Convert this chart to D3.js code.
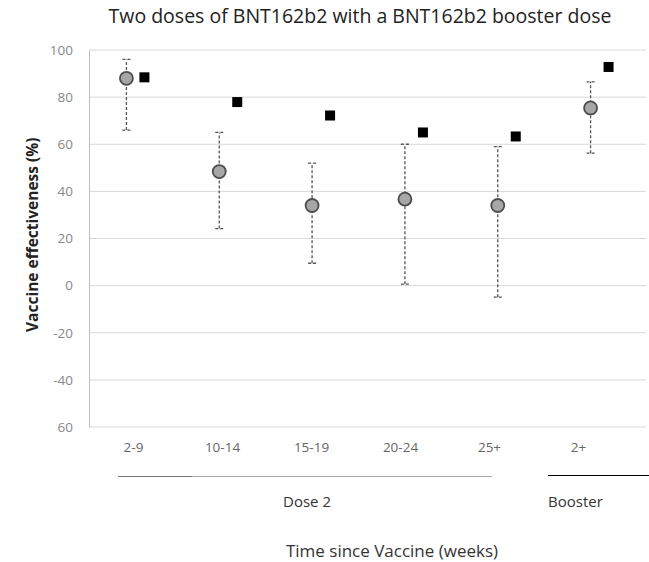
<!DOCTYPE html>
<html>
<head>
<meta charset="utf-8">
<script src="https://cdn.jsdelivr.net/npm/d3@7"></script>
<style>
  body { margin: 0; background: #fff; }
  text { font-family: "Open Sans", "Liberation Sans", sans-serif; }
</style>
</head>
<body>
<div id="chart"></div>
<script>
// data
var categories = ["2-9", "10-14", "15-19", "20-24", "25+", "2+"];
var groups = ["Dose 2", "Dose 2", "Dose 2", "Dose 2", "Dose 2", "Booster"];
var veEstimate = [88, 48.4, 34, 36.7, 34, 75.4];
var veLower = [66, 24.2, 9.5, 0.6, -4.9, 56.2];
var veUpper = [96, 65, 52, 60, 59, 86.5];
var veSquare = [88.4, 77.9, 72.2, 65, 63.3, 92.8];
var yTicks = [100, 80, 60, 40, 20, 0, -20, -40, -60];
var yTickLabels = ["100", "80", "60", "40", "20", "0", "-20", "-40", "60"];

var width = 649, height = 562;
var margin = {top: 50, right: 3, bottom: 135, left: 89};
var plotW = width - margin.left - margin.right,
    plotH = height - margin.top - margin.bottom;

var svg = d3.select("#chart")
  .append("svg")
  .attr("width", width)
  .attr("height", height);

var g = svg.append("g")
  .attr("transform", "translate(" + margin.left + "," + margin.top + ")");

var x = d3.scaleBand()
  .domain(categories)
  .range([0, plotW]);

var xLabel = d3.scalePoint()
  .domain(categories)
  .range([44, 489]);

var y = d3.scaleLinear()
  .domain([-60, 100])
  .range([plotH, 0]);

// gridlines
g.selectAll(".grid")
  .data(yTicks)
  .enter()
  .append("line")
  .attr("x1", 0)
  .attr("x2", plotW)
  .attr("y1", function(d) { return y(d); })
  .attr("y2", function(d) { return y(d); })
  .attr("stroke", "#d9d9d9")
  .attr("stroke-width", 1);

// y axis
var yAxis = g.append("g")
  .call(d3.axisLeft(y).tickValues(yTicks).tickSize(0).tickPadding(16)
    .tickFormat(function(d, i) { return yTickLabels[i]; }));
yAxis.select(".domain").attr("stroke", "#bfbfbf");
yAxis.selectAll("text")
  .attr("fill", "#888")
  .style("font-size", "13.5px");

// x tick labels
g.append("g")
  .attr("transform", "translate(0," + plotH + ")")
  .call(d3.axisBottom(xLabel).tickSize(0).tickPadding(15))
  .call(function(a) { a.select(".domain").remove(); })
  .selectAll("text")
  .attr("fill", "#666")
  .style("font-size", "13.5px");

var off = 9;

// error bars
var eb = g.selectAll(".eb")
  .data(categories)
  .enter()
  .append("g")
  .attr("transform", function(d) { return "translate(" + (x(d) + x.bandwidth() / 2 - off) + ",0)"; });

eb.append("line")
  .attr("y1", function(d, i) { return y(veLower[i]); })
  .attr("y2", function(d, i) { return y(veUpper[i]); })
  .attr("stroke", "#555")
  .attr("stroke-width", 1.3)
  .attr("stroke-dasharray", "3,2");

eb.append("line")
  .attr("x1", -4).attr("x2", 4)
  .attr("y1", function(d, i) { return y(veLower[i]); })
  .attr("y2", function(d, i) { return y(veLower[i]); })
  .attr("stroke", "#555")
  .attr("stroke-width", 1.3)
  .attr("stroke-dasharray", "3,2");

eb.append("line")
  .attr("x1", -4).attr("x2", 4)
  .attr("y1", function(d, i) { return y(veUpper[i]); })
  .attr("y2", function(d, i) { return y(veUpper[i]); })
  .attr("stroke", "#555")
  .attr("stroke-width", 1.3)
  .attr("stroke-dasharray", "3,2");

// circles
g.selectAll(".pt")
  .data(categories)
  .enter()
  .append("circle")
  .attr("cx", function(d) { return x(d) + x.bandwidth() / 2 - off; })
  .attr("cy", function(d, i) { return y(veEstimate[i]); })
  .attr("r", 6.5)
  .attr("fill", "#a6a6a6")
  .attr("stroke", "#4d4d4d")
  .attr("stroke-width", 1.8);

// squares
var sq = 10;
g.selectAll(".sq")
  .data(categories)
  .enter()
  .append("rect")
  .attr("x", function(d) { return x(d) + x.bandwidth() / 2 + off - sq / 2; })
  .attr("y", function(d, i) { return y(veSquare[i]) - sq / 2; })
  .attr("width", sq)
  .attr("height", sq)
  .attr("fill", "#000");

// group brackets
svg.append("line")
  .attr("x1", 118).attr("x2", 492)
  .attr("y1", 476.5).attr("y2", 476.5)
  .attr("stroke", "#aaa");
svg.append("line")
  .attr("x1", 118).attr("x2", 192)
  .attr("y1", 476.5).attr("y2", 476.5)
  .attr("stroke", "#777");
svg.append("text")
  .attr("x", 307).attr("y", 507)
  .attr("text-anchor", "middle")
  .attr("fill", "#333")
  .style("font-size", "15px")
  .text(groups[0]);

svg.append("line")
  .attr("x1", 548).attr("x2", 649)
  .attr("y1", 475.5).attr("y2", 475.5)
  .attr("stroke", "#000")
  .attr("stroke-width", 1.2);
svg.append("text")
  .attr("x", 548).attr("y", 507)
  .attr("fill", "#333")
  .style("font-size", "15px")
  .text(groups[5]);

// title
svg.append("text")
  .attr("x", 360).attr("y", 23)
  .attr("text-anchor", "middle")
  .attr("fill", "#222")
  .style("font-size", "19.5px")
  .text("Two doses of BNT162b2 with a BNT162b2 booster dose");

// x axis label
svg.append("text")
  .attr("x", 392).attr("y", 557)
  .attr("text-anchor", "middle")
  .attr("fill", "#333")
  .style("font-size", "17px")
  .text("Time since Vaccine (weeks)");

// y axis label
svg.append("text")
  .attr("transform", "translate(38," + (margin.top + plotH * 0.49) + ")rotate(-90)")
  .attr("text-anchor", "middle")
  .attr("fill", "#222")
  .style("font-size", "15.5px")
  .style("font-weight", "bold")
  .text("Vaccine effectiveness (%)");
</script>
</body>
</html>
